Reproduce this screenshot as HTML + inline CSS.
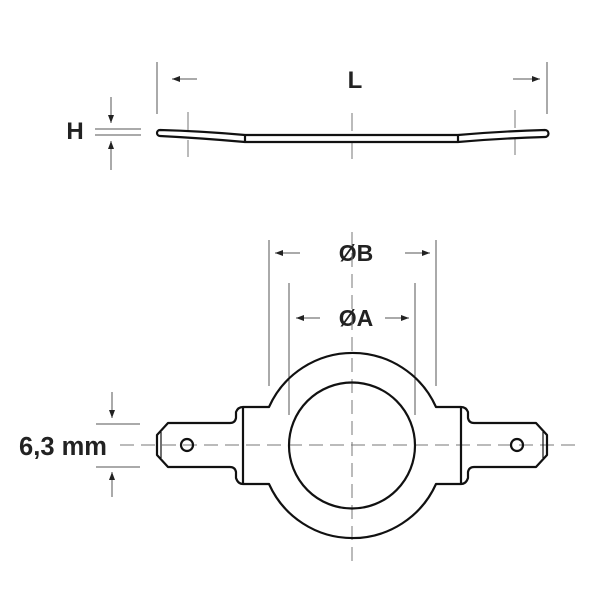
<!DOCTYPE html>
<html><head><style>body{margin:0;background:#fff}svg{display:block}</style></head><body>
<svg width="600" height="600" viewBox="0 0 600 600" xmlns="http://www.w3.org/2000/svg">
<defs>
<marker id="ar" markerWidth="8" markerHeight="6" refX="8" refY="3" orient="auto" markerUnits="userSpaceOnUse"><path d="M0,0 L8,3 L0,6z" fill="#222"/></marker>
</defs>
<g font-family="Liberation Sans, sans-serif" font-weight="bold" fill="#222" text-anchor="middle">
<text x="355" y="88" font-size="24">L</text>
<text x="75" y="139" font-size="24">H</text>
<text x="356" y="261" font-size="23">ØB</text>
<text x="356" y="326" font-size="23">ØA</text>
<text x="63" y="455" font-size="25.5">6,3 mm</text>
</g>
<g stroke="#555" stroke-width="1" fill="none">
<line x1="157" y1="62" x2="157" y2="114"/><line x1="547" y1="62" x2="547" y2="114"/>
<line x1="197" y1="79" x2="172" y2="79" marker-end="url(#ar)"/>
<line x1="513" y1="79" x2="540" y2="79" marker-end="url(#ar)"/>
<line x1="95" y1="129" x2="141" y2="129"/><line x1="95" y1="135" x2="141" y2="135"/>
<line x1="111" y1="97" x2="111" y2="123" marker-end="url(#ar)"/>
<line x1="111" y1="170" x2="111" y2="141" marker-end="url(#ar)"/>
<line x1="269" y1="240" x2="269" y2="386"/><line x1="436" y1="240" x2="436" y2="386"/>
<line x1="300" y1="253" x2="275" y2="253" marker-end="url(#ar)"/>
<line x1="405" y1="253" x2="430" y2="253" marker-end="url(#ar)"/>
<line x1="289" y1="283" x2="289" y2="415"/><line x1="415" y1="283" x2="415" y2="415"/>
<line x1="320" y1="318" x2="296" y2="318" marker-end="url(#ar)"/>
<line x1="385" y1="318" x2="409" y2="318" marker-end="url(#ar)"/>
<line x1="96" y1="424" x2="140" y2="424"/><line x1="96" y1="467" x2="140" y2="467"/>
<line x1="112" y1="392" x2="112" y2="418" marker-end="url(#ar)"/>
<line x1="112" y1="497" x2="112" y2="472" marker-end="url(#ar)"/>
</g>
<g stroke="#777" stroke-width="1" fill="none" stroke-dasharray="14,7">
<line x1="120" y1="445" x2="578" y2="445"/>
<line x1="352" y1="232" x2="352" y2="562"/>
</g>
<g stroke="#777" stroke-width="1">
<line x1="188" y1="112" x2="188" y2="157" stroke-dasharray="18,10"/>
<line x1="352" y1="113" x2="352" y2="160" stroke-dasharray="18,10"/>
<line x1="515" y1="110" x2="515" y2="155" stroke-dasharray="18,10"/>
</g>
<g stroke="#111" stroke-width="2.2" fill="none" stroke-linejoin="round">
<path d="M160,130 Q200,131 245,135 L458,135 Q505,131 545,130 A3.5,3.5 0 0 1 545,137 Q505,138 458,142 L245,142 Q200,138 160,136 A3,3 0 0 1 160,130Z"/>
<line x1="245" y1="135" x2="245" y2="142"/><line x1="458" y1="135" x2="458" y2="142"/>
<path d="M269,407 A91.5,91.5 0 0 1 436,407 L461,407 Q466,407 468,412 L468,418 Q469,423 474,423 L536,423 L547,435 L547,455 L536,467 L474,467 Q469,467 468,472 L468,478 Q466,484 461,484 L436,484 A91.5,91.5 0 0 1 269,484 L243,484 Q238,484 236,478 L236,472 Q235,467 230,467 L168,467 L157,455 L157,435 L168,423 L230,423 Q235,423 236,418 L236,412 Q238,407 243,407 Z"/>
<line x1="243" y1="407" x2="243" y2="484"/><line x1="461" y1="407" x2="461" y2="484"/>
<line x1="161" y1="432" x2="161" y2="458" stroke-width="1.2"/><line x1="543" y1="432" x2="543" y2="458" stroke-width="1.2"/>
<circle cx="352" cy="445.5" r="63"/>
<circle cx="187" cy="445" r="6"/><circle cx="517" cy="445" r="6"/>
</g>
</svg>
</body></html>
